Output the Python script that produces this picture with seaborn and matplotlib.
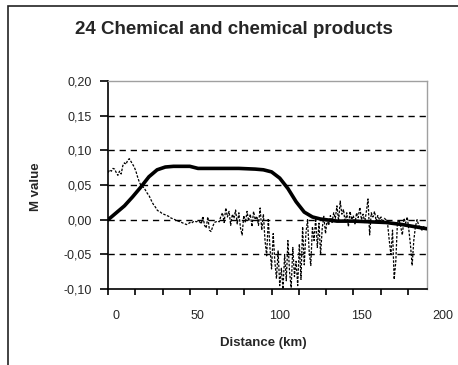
import numpy as np
import pandas as pd
import matplotlib
matplotlib.use('Agg')
import matplotlib.pyplot as plt
import matplotlib.transforms as mtransforms
import seaborn as sns
from matplotlib.patches import Rectangle

# Smoothed M value (thick line)
smooth_km = [0, 5, 10, 15, 20, 25, 30, 35, 40, 50, 55, 60, 70, 80, 90, 95,
             100, 105, 110, 115, 120, 125, 130, 140, 150, 160, 170, 180, 190, 195]
smooth_m = [0.000, 0.010, 0.020, 0.033, 0.047, 0.062, 0.072, 0.076, 0.077, 0.077,
            0.074, 0.074, 0.074, 0.074, 0.073, 0.072, 0.069, 0.060, 0.045, 0.026,
            0.011, 0.004, 0.001, -0.002, -0.002, -0.003, -0.004, -0.007, -0.011, -0.013]

# Raw M value per km (thin dotted line), km 0..194
raw_m = [
    0.068, 0.072, 0.070, 0.074, 0.073, 0.068, 0.064, 0.070, 0.066, 0.078,
    0.082, 0.080, 0.086, 0.088, 0.084, 0.080, 0.076, 0.070, 0.062, 0.055,
    0.050, 0.048, 0.046, 0.042, 0.038, 0.035, 0.030, 0.025, 0.021, 0.018,
    0.014, 0.012, 0.011, 0.009, 0.008, 0.007, 0.006, 0.005, 0.003, 0.002,
    0.001, 0.000, -0.002, -0.002, -0.003, -0.004, -0.005, -0.006, -0.007, -0.006,
    -0.004, -0.005, -0.003, -0.002, -0.003, -0.002, -0.003, -0.006, 0.005, -0.008,
    -0.012, 0.004, -0.015, -0.017, -0.010, -0.004, -0.003, -0.002, -0.003, 0.005,
    0.010, -0.004, 0.017, 0.004, 0.012, -0.008, 0.008, 0.002, 0.014, -0.006,
    0.010, -0.012, -0.022, 0.006, -0.004, 0.012, -0.002, 0.008, -0.010, 0.012,
    0.000, 0.005, -0.008, 0.017, -0.015, 0.008, -0.030, -0.052, 0.002, -0.040,
    -0.071, -0.020, -0.060, -0.085, -0.045, -0.095, -0.070, -0.100, -0.050, -0.088,
    -0.030, -0.075, -0.098, -0.040, -0.082, -0.060, -0.095, -0.035, -0.086, -0.010,
    -0.065, -0.020, 0.000, -0.045, -0.066, -0.010, -0.030, 0.002, -0.040, -0.005,
    -0.050, -0.012, 0.005, -0.020, 0.000, -0.008, 0.006, -0.004, 0.010, 0.002,
    0.020, -0.002, 0.027, 0.008, 0.015, -0.004, 0.010, -0.010, 0.012, 0.000,
    0.006, -0.006, 0.010, 0.003, 0.018, 0.000, 0.008, -0.004, 0.012, 0.030,
    -0.022, 0.010, 0.004, 0.012, -0.002, 0.006, 0.000, 0.004, -0.004, 0.002,
    0.000, -0.006, -0.030, -0.050, -0.015, -0.086, -0.060, -0.004, 0.000, -0.010,
    -0.022, 0.002, -0.005, 0.004, -0.015, -0.037, -0.066, -0.030, -0.010, 0.000,
    -0.008, -0.012, -0.015, -0.010, -0.012,
]
raw_km = list(range(len(raw_m)))

grid_levels = [0.15, 0.10, 0.05, 0.00, -0.05]
y_ticks = [-0.10, -0.05, 0.00, 0.05, 0.10, 0.15, 0.20]
x_labels = [0, 50, 100, 150, 200]

sns.set_style("white")
plt.rcParams['font.family'] = ['Liberation Sans', 'DejaVu Sans']

fig = plt.figure(figsize=(4.58, 3.65), dpi=100)
ax = fig.add_axes([0.236, 0.208, 0.696, 0.570])

# outer chart frame (left and top edges visible)
fig.patches.append(Rectangle((0.018, -0.1), 1.2, 1.083, transform=fig.transFigure,
                             fill=False, edgecolor='#222222', linewidth=1.2))

for g in grid_levels:
    ax.axhline(g, color='black', linewidth=1.0, linestyle=(0, (4.5, 3.5)), zorder=1)

raw_df = pd.DataFrame({'km': raw_km, 'm': raw_m})
smooth_df = pd.DataFrame({'km': smooth_km, 'm': smooth_m})
sns.lineplot(data=raw_df, x='km', y='m', ax=ax, color='black', linewidth=0.9,
             linestyle=(0, (2, 1.2)), zorder=2)
sns.lineplot(data=smooth_df, x='km', y='m', ax=ax, color='black', linewidth=2.6, zorder=3)

ax.set_xlim(0, 195)
ax.set_ylim(-0.10, 0.20)
ax.set_yticks(y_ticks)
ax.set_yticklabels([f"{v:.2f}".replace('.', ',') for v in y_ticks], fontsize=9)
ax.tick_params(axis='y', left=True, direction='out', length=6, width=1.2,
               color='black', pad=6)

xt = np.arange(0, 195, 50 / 3)
ax.set_xticks(xt)
ax.set_xticklabels(['' for _ in xt])
ax.tick_params(axis='x', bottom=True, direction='out', length=4, width=1.2, color='black')
# category-style labels sit a little right of their ticks, as in the source chart
shift = mtransforms.ScaledTranslation(8 / 100, 0, fig.dpi_scale_trans)
for v in x_labels:
    ax.text(v, -0.1, str(v), transform=ax.get_xaxis_transform() + shift,
            ha='center', va='top', fontsize=9, clip_on=False)

for side in ['left', 'bottom']:
    ax.spines[side].set_color('black')
    ax.spines[side].set_linewidth(1.2)
for side in ['top', 'right']:
    ax.spines[side].set_color('#a0a0a0')
    ax.spines[side].set_linewidth(1.0)

ax.set_xlabel('Distance (km)', fontsize=9.5, fontweight='bold')
ax.xaxis.set_label_coords(0.486, -0.23)
ax.set_ylabel('M value', fontsize=9.5, fontweight='bold')
ax.yaxis.set_label_coords(-0.207, 0.493)
fig.text(0.511, 0.918, '24 Chemical and chemical products', ha='center', va='center',
         fontsize=13.5, fontweight='bold')

fig.savefig('out.png', dpi=100)
